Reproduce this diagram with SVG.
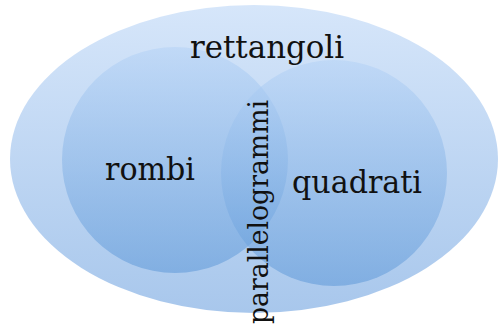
<svg xmlns="http://www.w3.org/2000/svg" width="498" height="331" viewBox="0 0 498 331">
<defs>
<linearGradient id="gOuter" x1="0" y1="0" x2="0" y2="1">
<stop offset="0" stop-color="#d6e6fa"/>
<stop offset="1" stop-color="#a8c7ec"/>
</linearGradient>
<linearGradient id="gCircle" x1="0" y1="0" x2="0" y2="1">
<stop offset="0" stop-color="#b4d2f6"/>
<stop offset="1" stop-color="#5d98d8"/>
</linearGradient>
<style>
.lbl{font-family:"DejaVu Serif","Liberation Serif",serif;fill:#111;}
.c{fill:url(#gCircle);fill-opacity:0.55;}
</style>
</defs>
<rect width="498" height="331" fill="#ffffff"/>
<g id="rettangoli">
<ellipse cx="254" cy="159" rx="244" ry="154" fill="url(#gOuter)"/>
</g>
<g id="rombi">
<circle class="c" cx="175" cy="160" r="113"/>
</g>
<g id="quadrati">
<circle class="c" cx="334" cy="173" r="113"/>
</g>
<g id="labels">
<text class="lbl" x="267" y="58" font-size="31" text-anchor="middle" textLength="154" lengthAdjust="spacingAndGlyphs">rettangoli</text>
<text class="lbl" x="150" y="180" font-size="31" text-anchor="middle" textLength="90" lengthAdjust="spacingAndGlyphs">rombi</text>
<text class="lbl" x="357" y="193" font-size="31" text-anchor="middle" textLength="130" lengthAdjust="spacingAndGlyphs">quadrati</text>
</g>
<g id="parallelogrammi">
<text class="lbl" transform="translate(268,212) rotate(-90)" x="0" y="0" font-size="28" text-anchor="middle" textLength="224" lengthAdjust="spacingAndGlyphs">parallelogrammi</text>
</g>
</svg>
